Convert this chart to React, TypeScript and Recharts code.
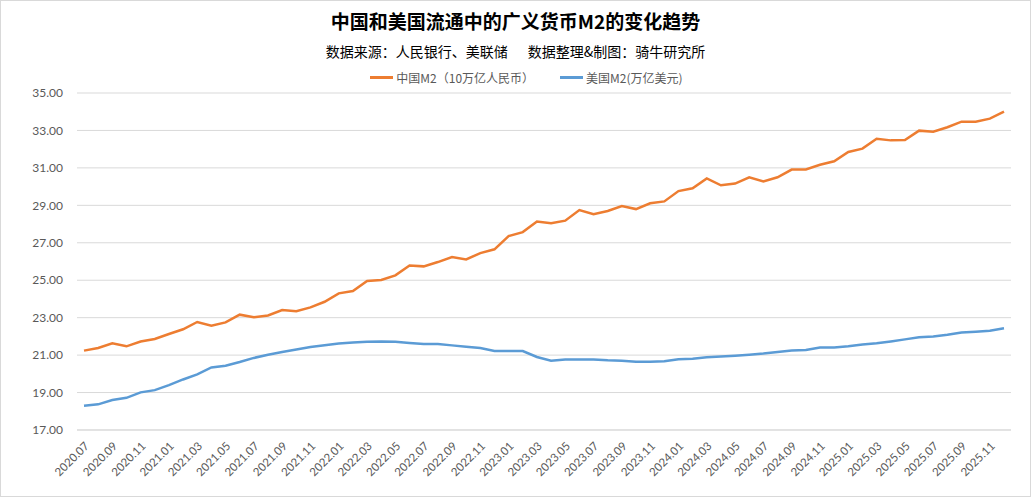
import { CartesianGrid, Line, LineChart, XAxis, YAxis } from "recharts"

const months = [
  "2020.07", "2020.08", "2020.09", "2020.10", "2020.11", "2020.12",
  "2021.01", "2021.02", "2021.03", "2021.04", "2021.05", "2021.06",
  "2021.07", "2021.08", "2021.09", "2021.10", "2021.11", "2021.12",
  "2022.01", "2022.02", "2022.03", "2022.04", "2022.05", "2022.06",
  "2022.07", "2022.08", "2022.09", "2022.10", "2022.11", "2022.12",
  "2023.01", "2023.02", "2023.03", "2023.04", "2023.05", "2023.06",
  "2023.07", "2023.08", "2023.09", "2023.10", "2023.11", "2023.12",
  "2024.01", "2024.02", "2024.03", "2024.04", "2024.05", "2024.06",
  "2024.07", "2024.08", "2024.09", "2024.10", "2024.11", "2024.12",
  "2025.01", "2025.02", "2025.03", "2025.04", "2025.05", "2025.06",
  "2025.07", "2025.08", "2025.09", "2025.10", "2025.11", "2025.12",
]

// 中国M2，单位：10万亿人民币
const chinaM2 = [
  21.24, 21.38, 21.63, 21.47, 21.73, 21.86,
  22.13, 22.38, 22.77, 22.57, 22.75, 23.16,
  23.02, 23.12, 23.41, 23.34, 23.55, 23.85,
  24.30, 24.42, 24.96, 25.01, 25.26, 25.79,
  25.74, 25.97, 26.24, 26.11, 26.45, 26.65,
  27.36, 27.57, 28.14, 28.04, 28.18, 28.75,
  28.52, 28.70, 28.96, 28.80, 29.11, 29.21,
  29.76, 29.91, 30.44, 30.07, 30.16, 30.50,
  30.28, 30.50, 30.91, 30.92, 31.17, 31.35,
  31.85, 32.03, 32.56, 32.47, 32.49, 32.99,
  32.93, 33.17, 33.47, 33.47, 33.63, 34.00,
]

// 美国M2，单位：万亿美元
const usM2 = [
  18.30, 18.37, 18.60, 18.72, 19.01, 19.13,
  19.40, 19.70, 19.97, 20.34, 20.43, 20.63,
  20.85, 21.02, 21.17, 21.30, 21.43, 21.53,
  21.62, 21.68, 21.72, 21.73, 21.72, 21.65,
  21.59, 21.59, 21.52, 21.45, 21.38, 21.22,
  21.22, 21.22, 20.90, 20.70, 20.76, 20.77,
  20.77, 20.72, 20.70, 20.65, 20.65, 20.67,
  20.78, 20.81, 20.88, 20.92, 20.97, 21.02,
  21.08, 21.17, 21.24, 21.27, 21.40, 21.41,
  21.47, 21.57, 21.63, 21.73, 21.84, 21.95,
  22.00, 22.09, 22.21, 22.25, 22.30, 22.43,
]

const yTicks = [17, 19, 21, 23, 25, 27, 29, 31, 33, 35]

const data = months.map((m, i) => ({ month: m, china: chinaM2[i], us: usM2[i] }))

const ORANGE = "#ED7D31"
const BLUE = "#5B9BD5"
const cjk = '"Noto Sans CJK SC", sans-serif'

function App() {
  return (
    <div style={{ width: 1031, height: 497, position: "relative", boxSizing: "border-box", border: "1px solid #d9d9d9", background: "#fff" }}>
      <style>{`body{margin:0}`}</style>
      <div style={{ position: "absolute", top: 6, left: 0, width: 1029, textAlign: "center", fontFamily: cjk, fontSize: 19, fontWeight: 700, color: "#000" }}>
        中国和美国流通中的广义货币M2的变化趋势
      </div>
      <div style={{ position: "absolute", top: 40, left: 0, width: 1029, textAlign: "center", fontFamily: cjk, fontSize: 14, color: "#000" }}>
        <span>数据来源：人民银行、美联储</span>
        <span style={{ marginLeft: 20 }}>数据整理&制图：骑牛研究所</span>
      </div>
      <div style={{ position: "absolute", top: 68, left: 0, width: 1029, display: "flex", justifyContent: "center", paddingLeft: 22, boxSizing: "border-box", fontFamily: cjk, fontSize: 12, color: "#595959" }}>
        <span style={{ display: "flex", alignItems: "center", marginRight: 26 }}>
          <span style={{ width: 23, height: 3, background: ORANGE, marginRight: 3 }} />
          中国M2（10万亿人民币）
        </span>
        <span style={{ display: "flex", alignItems: "center" }}>
          <span style={{ width: 23, height: 3, background: BLUE, marginRight: 3 }} />
          美国M2(万亿美元)
        </span>
      </div>
      <LineChart width={1029} height={495} data={data} margin={{ top: 92, right: 19, left: 0, bottom: 0 }}>
        <CartesianGrid vertical={false} stroke="#d9d9d9" />
        <XAxis
          dataKey="month"
          interval={1}
          height={66}
          padding={{ left: 7, right: 7 }}
          tickLine={false}
          tickSize={0}
          tickMargin={11}
          axisLine={{ stroke: "#d9d9d9" }}
          angle={-45}
          textAnchor="end"
          tick={{ fill: "#595959", fontSize: 11.5, fontFamily: "Lato, sans-serif" }}
        />
        <YAxis
          width={76}
          domain={[17, 35]}
          ticks={yTicks}
          interval={0}
          axisLine={false}
          tickLine={false}
          tickSize={0}
          tickMargin={14}
          tickFormatter={(v: number) => v.toFixed(2)}
          tick={{ fill: "#595959", fontSize: 12, fontFamily: "Lato, sans-serif" }}
        />
        <Line type="linear" dataKey="china" stroke={ORANGE} strokeWidth={2.5} dot={false} isAnimationActive={false} />
        <Line type="linear" dataKey="us" stroke={BLUE} strokeWidth={2.5} dot={false} isAnimationActive={false} />
      </LineChart>
    </div>
  )
}

export default App
